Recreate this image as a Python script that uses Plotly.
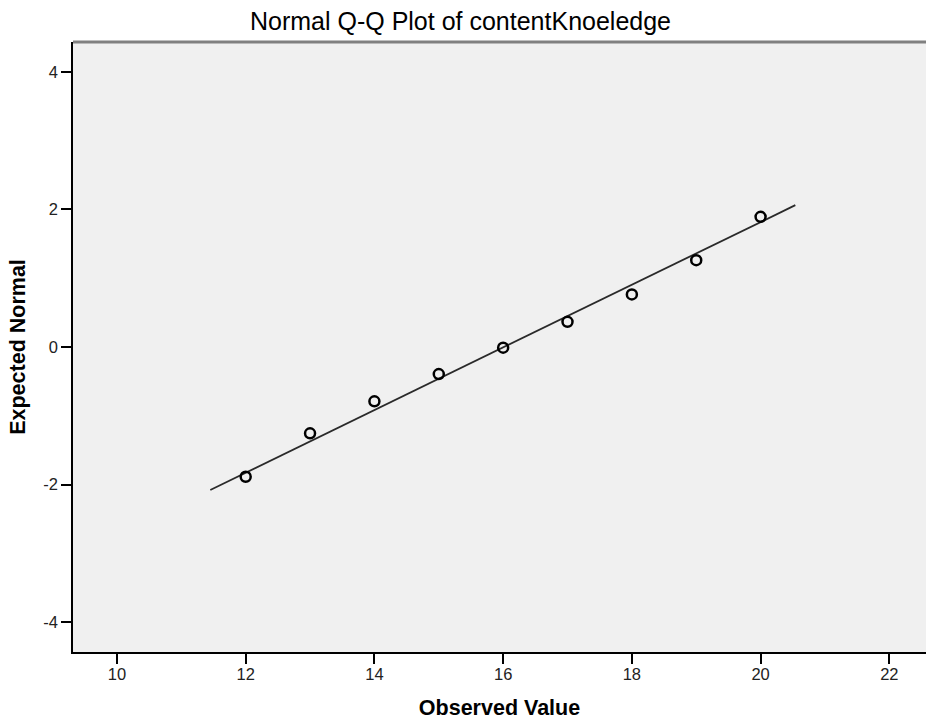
import plotly.graph_objects as go

observed = [12, 13, 14, 15, 16, 17, 18, 19, 20]
expected = [-1.887, -1.256, -0.79, -0.394, -0.01, 0.366, 0.765, 1.263, 1.893]
line_x = [11.45, 20.54]
line_y = [-2.08, 2.063]
x_ticks = [10, 12, 14, 16, 18, 20, 22]
y_ticks = [-4, -2, 0, 2, 4]

FONT = "Liberation Sans, Arial, sans-serif"
W, H = 926, 723

fig = go.Figure()
fig.add_trace(go.Scatter(x=line_x, y=line_y, mode="lines",
                         line=dict(color="#2a2a2a", width=1.8),
                         showlegend=False, hoverinfo="skip"))
fig.add_trace(go.Scatter(x=observed, y=expected, mode="markers",
                         marker=dict(symbol="circle-open", size=10, color="black",
                                     line=dict(color="black", width=2.5)),
                         showlegend=False))

fig.update_layout(
    width=W, height=H,
    margin=dict(l=73, r=0, t=42, b=71),
    paper_bgcolor="white", plot_bgcolor="#f0f0f0",
    font=dict(family=FONT, color="#222"),
    title=dict(text="Normal Q-Q Plot of contentKnoeledge", x=460.5 / W, xref="container",
               y=1 - 21 / H, yref="container", yanchor="middle", xanchor="center",
               font=dict(family=FONT, size=25, color="black")),
    xaxis=dict(range=[9.317, 22.57], tickvals=x_ticks, ticktext=[str(v) for v in x_ticks],
               showgrid=False, zeroline=False, showline=True, linecolor="black", linewidth=1.5,
               ticks="outside", ticklen=10, tickwidth=1.5, tickcolor="black",
               ticklabelstandoff=-4,
               tickfont=dict(size=16.5, color="#222"),
               title=dict(text="<b>Observed Value</b>", standoff=18,
                          font=dict(size=21.5, color="black"))),
    yaxis=dict(range=[-4.436, 4.436], tickvals=y_ticks, ticktext=[str(v) for v in y_ticks],
               showgrid=False, zeroline=False, showline=True, linecolor="black", linewidth=1.5,
               ticks="outside", ticklen=10, tickwidth=1.5, tickcolor="black",
               tickfont=dict(size=16.5, color="#222"),
               title=dict(text="<b>Expected Normal</b>", standoff=12,
                          font=dict(size=21.5, color="black"))),
    shapes=[dict(type="line", xref="x domain", yref="y domain", x0=0, x1=1, y0=1, y1=1,
                 line=dict(color="#808080", width=3))],
)

fig.write_html(
    "out.html",
    config={"displayModeBar": False},
    post_script="document.body.style.margin='0px';"
                "document.documentElement.style.overflow='hidden';",
)
